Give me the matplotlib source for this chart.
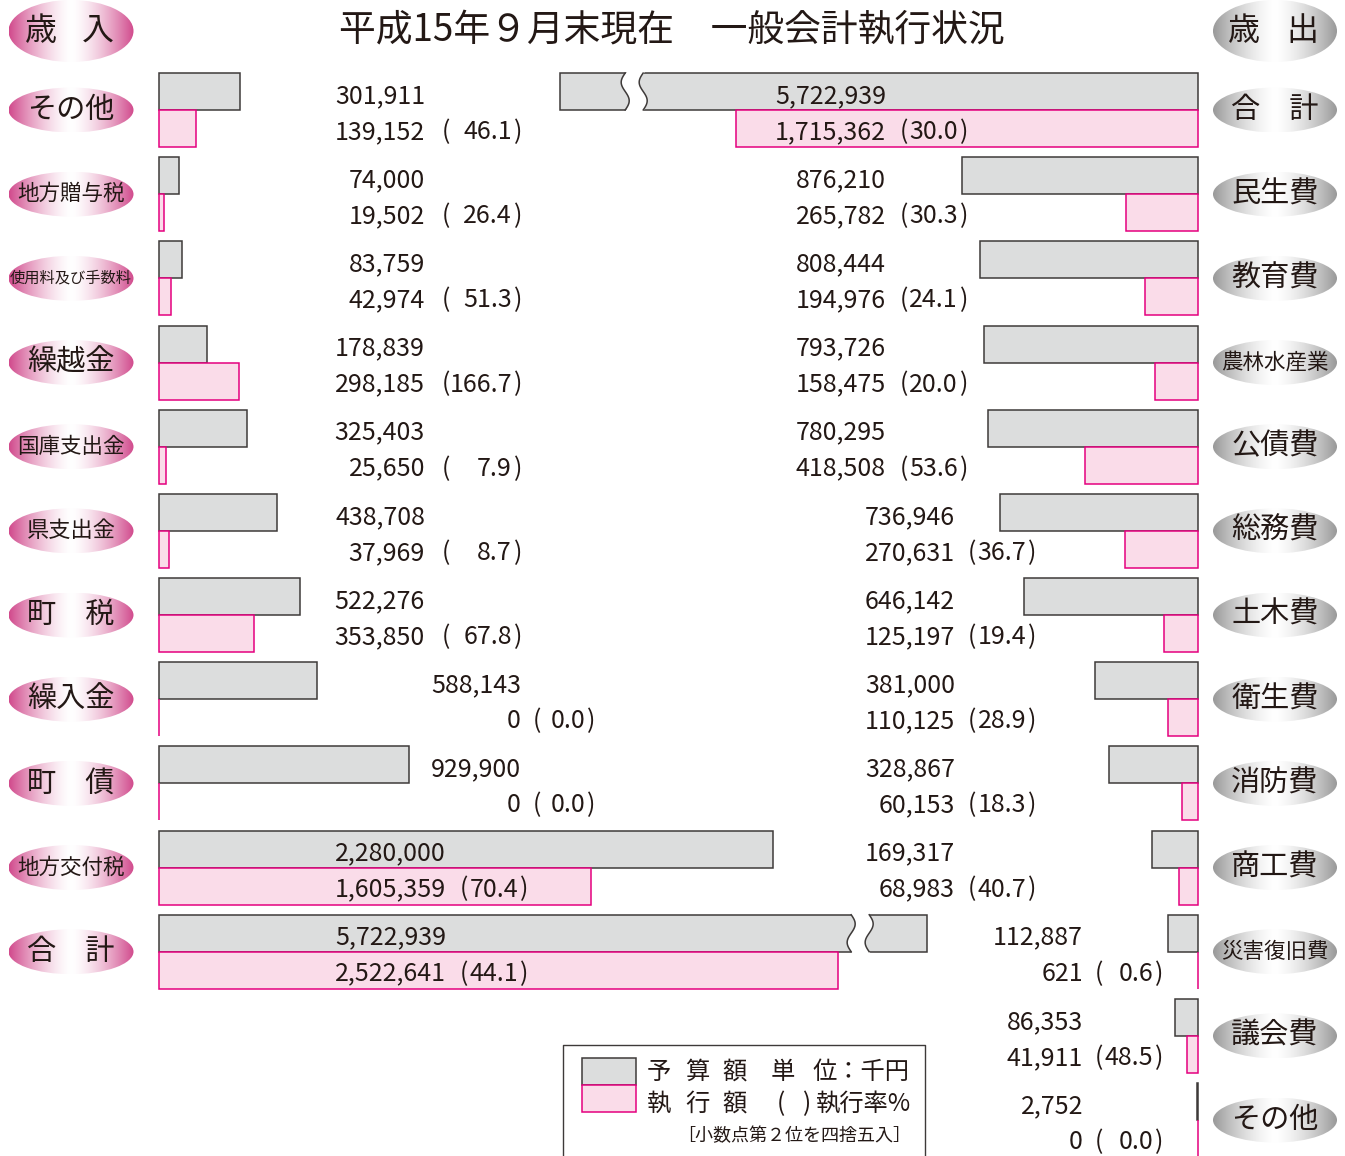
import numpy as np
import matplotlib.pyplot as plt
from matplotlib.patches import Ellipse, Rectangle

plt.rcParams['font.family'] = ['Noto Sans CJK JP', 'DejaVu Sans']

title = '平成15年９月末現在　一般会計執行状況'

# 歳入 (単位：千円)
in_labels = ['その他', '地方贈与税', '使用料及び手数料', '繰越金', '国庫支出金',
             '県支出金', '町　税', '繰入金', '町　債', '地方交付税', '合　計']
in_budget = [301911, 74000, 83759, 178839, 325403, 438708, 522276, 588143, 929900, 2280000, 5722939]
in_exec = [139152, 19502, 42974, 298185, 25650, 37969, 353850, 0, 0, 1605359, 2522641]
in_rate = [46.1, 26.4, 51.3, 166.7, 7.9, 8.7, 67.8, 0.0, 0.0, 70.4, 44.1]

# 歳出
out_labels = ['合　計', '民生費', '教育費', '農林水産業', '公債費', '総務費', '土木費',
              '衛生費', '消防費', '商工費', '災害復旧費', '議会費', 'その他']
out_budget = [5722939, 876210, 808444, 793726, 780295, 736946, 646142, 381000, 328867, 169317, 112887, 86353, 2752]
out_exec = [1715362, 265782, 194976, 158475, 418508, 270631, 125197, 110125, 60153, 68983, 621, 41911, 0]
out_rate = [30.0, 30.3, 24.1, 20.0, 53.6, 36.7, 19.4, 28.9, 18.3, 40.7, 0.6, 48.5, 0.0]

GRAY = '#dcdddd'
GRAY_EDGE = '#3e3a39'
PINK = '#fadce9'
PINK_EDGE = '#e4007f'
INK = '#231815'

# layout (pixels)
W, H = 1345, 1156
TOP, PITCH, BAR = 73, 84.17, 37
IN_X0, OUT_X0 = 159, 1198
UNIT = 3713  # 千円 per pixel
bh = BAR / PITCH

fig = plt.figure(figsize=(W / 100, H / 100), dpi=100)

ax_in = fig.add_axes([0, 0, 1, 1])
ax_in.set_xlim(-IN_X0 * UNIT, (W - IN_X0) * UNIT)
ax_out = fig.add_axes([0, 0, 1, 1])
ax_out.set_xlim(OUT_X0 * UNIT, -(W - OUT_X0) * UNIT)
for ax in (ax_in, ax_out):
    ax.set_ylim((H - TOP) / PITCH, -TOP / PITCH)
    ax.axis('off')


def draw_bars(ax, budget, exe, brk, tail):
    rows = np.arange(len(budget))
    cap = brk + tail * UNIT
    shown = [min(v, cap) for v in budget]
    ax.barh(rows, shown, height=bh, align='edge', color=GRAY, edgecolor=GRAY_EDGE, lw=1.1)
    ax.barh(rows + bh, exe, height=bh, align='edge', color=PINK, edgecolor=PINK_EDGE, lw=1.1)
    # broken bar mark
    for i, v in enumerate(budget):
        if v <= cap:
            continue
        pad = 2 / PITCH
        yy = np.linspace(i - pad, i + bh + pad, 80)
        t = (yy - i) / bh
        xa = brk + 4 * UNIT * np.sin(2 * np.pi * t)
        xb = xa + 18 * UNIT
        ax.fill_betweenx(yy, xa, xb, color='white', zorder=3, lw=0)
        m = (yy >= i) & (yy <= i + bh)
        ax.plot(xa[m], yy[m], color=GRAY_EDGE, lw=1.1, zorder=4)
        ax.plot(xb[m], yy[m], color=GRAY_EDGE, lw=1.1, zorder=4)


draw_bars(ax_in, in_budget, in_exec, 2570000, 76)
draw_bars(ax_out, out_budget, out_exec, 2060000, 83)

# overlay for text and decorations, pixel coordinates
ax_t = fig.add_axes([0, 0, 1, 1])
ax_t.axis('off')


def badge(cx, cy, w, h, edge, text, size):
    t = np.linspace(-1, 1, 256)
    m = np.abs(t) ** 1.5
    img = 1 - m[None, :, None] * (1 - np.array(edge)[None, None, :])
    el = Ellipse((cx, cy), w, h, facecolor='none', edgecolor='none')
    ax_t.add_patch(el)
    im = ax_t.imshow(img, extent=(cx - w / 2, cx + w / 2, cy + h / 2, cy - h / 2),
                     aspect='auto', interpolation='bilinear', zorder=1)
    im.set_clip_path(el)
    if text:
        ax_t.text(cx, cy, text, ha='center', va='center', fontsize=size, color=INK, zorder=2)


def label_size(s):
    return {3: 21, 4: 16, 5: 15.5}.get(len(s), 11)


PINK_BADGE = (0.82, 0.29, 0.55)
GRAY_BADGE = (0.60, 0.60, 0.60)

badge(71, 31, 125, 62, PINK_BADGE, '', 0)
badge(1275, 31, 124, 62, GRAY_BADGE, '', 0)
for x, c in zip([41, 98], '歳入'):
    ax_t.text(x, 31, c, ha='center', va='center', fontsize=23, color=INK, zorder=2)
for x, c in zip([1244, 1302], '歳出'):
    ax_t.text(x, 31, c, ha='center', va='center', fontsize=23, color=INK, zorder=2)
for i, s in enumerate(in_labels):
    badge(71, TOP + PITCH * i + BAR, 125, 45, PINK_BADGE, s, label_size(s))
for i, s in enumerate(out_labels):
    badge(1275, TOP + PITCH * i + BAR, 124, 45, GRAY_BADGE, s, label_size(s))

ax_t.text(672, 30, title, ha='center', va='center', fontsize=26.5, color=INK)

# number columns: amount right edge, open paren, rate right edge
in_cols = [(425, 442, 512)] * 7 + [(521, 533, 585)] * 2 + [(446, 460, 518)] * 2
out_cols = [(886, 900, 958)] * 5 + [(955, 968, 1026)] * 5 + [(1083, 1095, 1153)] * 3


def draw_numbers(budget, exe, rate, cols):
    kw = dict(va='baseline', fontsize=18, color=INK, zorder=5)
    for i, (b, e, r) in enumerate(zip(budget, exe, rate)):
        xa, xo, xr = cols[i]
        yb = TOP + PITCH * i + 30
        ye = yb + 36
        ax_t.text(xa, yb, f'{b:,}', ha='right', **kw)
        ax_t.text(xa, ye, f'{e:,}', ha='right', **kw)
        ax_t.text(xo, ye, '(', ha='left', **kw)
        ax_t.text(xr, ye, f'{r:.1f}', ha='right', **kw)
        ax_t.text(xr + 2, ye, ')', ha='left', **kw)


draw_numbers(in_budget, in_exec, in_rate, in_cols)
draw_numbers(out_budget, out_exec, out_rate, out_cols)

# legend box
ax_t.plot([563, 563, 925, 925], [H + 5, 1045, 1045, H + 5], color=GRAY_EDGE, lw=1.0)
ax_t.add_patch(Rectangle((582, 1058), 54, 27, facecolor=GRAY, edgecolor=GRAY_EDGE, lw=1.1))
ax_t.add_patch(Rectangle((582, 1085), 54, 27, facecolor=PINK, edgecolor=PINK_EDGE, lw=1.1))
lk = dict(va='center', fontsize=17.5, color=INK)
for x, c1, c2 in zip([659, 697, 735], '予算額', '執行額'):
    ax_t.text(x, 1072, c1, ha='center', **lk)
    ax_t.text(x, 1104, c2, ha='center', **lk)
ax_t.text(783, 1072, '単', ha='center', **lk)
ax_t.text(909, 1072, '位：千円', ha='right', **lk)
ax_t.text(781, 1104, '(', ha='center', **lk)
ax_t.text(806, 1104, ')', ha='center', **lk)
ax_t.text(911, 1104, '執行率%', ha='right', **lk)
ax_t.text(794, 1136, '［小数点第２位を四捨五入］', ha='center', va='center', fontsize=13, color=INK)

ax_t.set_xlim(0, W)
ax_t.set_ylim(H, 0)

fig.savefig('out.png', dpi=100, facecolor='white')
